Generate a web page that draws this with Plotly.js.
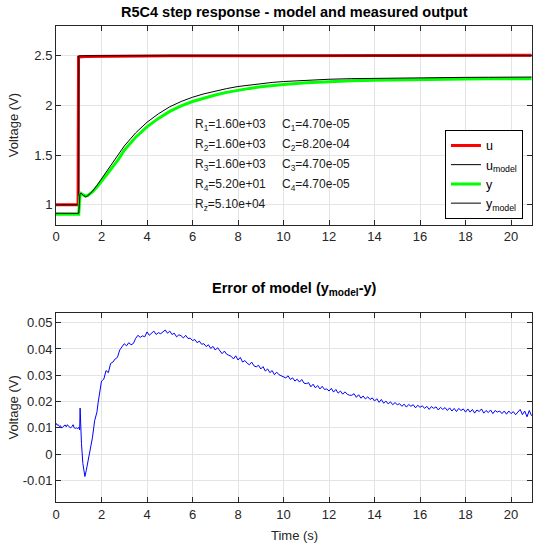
<!DOCTYPE html>
<html><head><meta charset="utf-8">
<script src="https://cdn.plot.ly/plotly-3.0.1.min.js"></script>
<style>html,body{margin:0;padding:0;background:#fff}#plot{width:536px;height:546px}</style>
</head><body><div id="plot"></div>
<script>
// ---- data ----
const uT = [0, 0.97, 0.99, 1.3, 5, 10, 20.9];
const uV = [1.0, 1.0, 2.487, 2.492, 2.5, 2.504, 2.506];
const umT = [0, 1.0, 1.0, 20.9];
const umV = [1.0, 1.0, 2.5, 2.5];
const yT = [0, 0.98, 1.0, 1.05, 1.1, 1.2, 1.3, 1.4, 1.6, 1.8, 2.0, 2.25, 2.5, 2.75, 3.0, 3.5, 4.0, 4.5, 5.0, 5.5, 6.0, 6.5, 7.0, 7.5, 8.0, 8.5, 9.0, 9.5, 10, 11, 12, 13, 14, 15, 16, 17, 18, 19, 20, 20.9];
const yV = [0.905, 0.905, 0.905, 1.09, 1.115, 1.10, 1.088, 1.095, 1.13, 1.18, 1.235, 1.31, 1.385, 1.46, 1.55, 1.68, 1.785, 1.87, 1.94, 1.995, 2.04, 2.075, 2.105, 2.132, 2.155, 2.172, 2.188, 2.201, 2.212, 2.228, 2.24, 2.248, 2.254, 2.259, 2.262, 2.265, 2.267, 2.268, 2.27, 2.27];
const ymV = [0.916, 0.915, 0.915, 1.105, 1.118, 1.095, 1.08, 1.092, 1.136, 1.196, 1.261, 1.342, 1.42, 1.498, 1.592, 1.724, 1.831, 1.916, 1.987, 2.04, 2.083, 2.117, 2.145, 2.17, 2.191, 2.207, 2.221, 2.232, 2.241, 2.255, 2.264, 2.27, 2.274, 2.278, 2.28, 2.282, 2.283, 2.284, 2.286, 2.286];

// model error (y_model - y)
const errT1 = [0, 0.05, 0.1, 0.15, 0.2, 0.25, 0.3, 0.35, 0.4, 0.45, 0.5, 0.55, 0.6, 0.65, 0.7, 0.75, 0.8, 0.85, 0.9, 0.95, 1.0, 1.04, 1.06, 1.08, 1.12, 1.18, 1.24, 1.27, 1.33, 1.4, 1.5, 1.6, 1.7, 1.8, 1.85, 1.9, 1.95];
const errV1 = [0.0118, 0.0110, 0.0112, 0.0105, 0.0108, 0.0099, 0.0104, 0.0106, 0.0111, 0.0104, 0.0112, 0.0106, 0.0104, 0.0100, 0.0105, 0.0112, 0.0100, 0.0098, 0.0100, 0.0097, 0.0102, 0.0092, 0.0175, 0.0095, 0.0040, -0.0035, -0.0076, -0.0085, -0.0062, -0.0030, 0.0016, 0.0062, 0.0128, 0.0160, 0.0195, 0.0220, 0.0238];
// sampled every 0.1 s from 2.0 s to 20.9 s
const errV2 = [0.0278, 0.0285, 0.0318, 0.0310, 0.0345, 0.0350, 0.0362, 0.0368, 0.0396, 0.0408,
  0.0420, 0.0412, 0.0424, 0.0416, 0.0421, 0.0440, 0.0452, 0.0444, 0.0450, 0.0446,
  0.0465, 0.0452, 0.0460, 0.0468, 0.0455, 0.0462, 0.0458, 0.0466, 0.0472, 0.0460,
  0.0468, 0.0455, 0.0460, 0.0446, 0.0454, 0.0450, 0.0442, 0.0452, 0.0440, 0.0441,
  0.0432, 0.0436, 0.0424, 0.0430, 0.0418, 0.0420, 0.0409, 0.0416, 0.0402, 0.0410,
  0.0396, 0.0405, 0.0394, 0.0382, 0.0392, 0.0380, 0.0376, 0.0372, 0.0362, 0.0374,
  0.0358, 0.0368, 0.0350, 0.0356, 0.0346, 0.0340, 0.0350, 0.0336, 0.0332, 0.0338,
  0.0324, 0.0333, 0.0316, 0.0324, 0.0310, 0.0318, 0.0302, 0.0312, 0.0302, 0.0298,
  0.0296, 0.0290, 0.0298, 0.0284, 0.0290, 0.0278, 0.0285, 0.0274, 0.0284, 0.0270,
  0.0268, 0.0272, 0.0256, 0.0266, 0.0252, 0.0261, 0.0248, 0.0258, 0.0246, 0.0248,
  0.0240, 0.0250, 0.0236, 0.0246, 0.0232, 0.0240, 0.0228, 0.0237, 0.0228, 0.0224,
  0.0224, 0.0230, 0.0216, 0.0226, 0.0213, 0.0221, 0.0210, 0.0218, 0.0208, 0.0214,
  0.0202, 0.0211, 0.0197, 0.0208, 0.0194, 0.0202, 0.0191, 0.0199, 0.0188, 0.0196,
  0.0188, 0.0192, 0.0182, 0.0190, 0.0179, 0.0189, 0.0182, 0.0188, 0.0176, 0.0186,
  0.0178, 0.0184, 0.0174, 0.0182, 0.0170, 0.0181, 0.0174, 0.0180, 0.0168, 0.0178,
  0.0170, 0.0177, 0.0166, 0.0176, 0.0164, 0.0174, 0.0162, 0.0174, 0.0166, 0.0172,
  0.0160, 0.0172, 0.0160, 0.0170, 0.0156, 0.0168, 0.0162, 0.0172, 0.0156, 0.0166,
  0.0158, 0.0168, 0.0154, 0.0166, 0.0160, 0.0164, 0.0154, 0.0164, 0.0152, 0.0164,
  0.0154, 0.0162, 0.0150, 0.0160, 0.0170, 0.0150, 0.0164, 0.0142, 0.0166, 0.0146];
const errT2 = errV2.map((_, i) => +(2.0 + 0.1 * i).toFixed(1));
const errT = errT1.concat(errT2);
const errV = errV1.concat(errV2);

const paramIdx = ['1', '2', '3', '4', 'z'];
const rVals = ['1.60e+03', '1.60e+03', '1.60e+03', '5.20e+01', '5.10e+04'];
const cVals = ['4.70e-05', '8.20e-04', '4.70e-05', '4.70e-05', null];

const xTicks = [0, 2, 4, 6, 8, 10, 12, 14, 16, 18, 20];
const y1Ticks = [1, 1.5, 2, 2.5];
const y2Ticks = [-0.01, 0, 0.01, 0.02, 0.03, 0.04, 0.05];
const y2Text = ['-0.01', '0', '0.01', '0.02', '0.03', '0.04', '0.05'];

// ---- styling / layout ----
const FONT = 'Liberation Sans, Arial, Helvetica, sans-serif';
const AX = '#262626';
const GRID = '#e4e4e4';

const traces = [
  {x: uT, y: uV, name: 'u', mode: 'lines', line: {color: '#ff0000', width: 3}, xaxis: 'x', yaxis: 'y'},
  {x: umT, y: umV, name: 'u<sub>model</sub>', mode: 'lines', line: {color: '#000000', width: 1}, xaxis: 'x', yaxis: 'y'},
  {x: yT, y: yV, name: 'y', mode: 'lines', line: {color: '#00ff00', width: 3}, xaxis: 'x', yaxis: 'y'},
  {x: yT, y: ymV, name: 'y<sub>model</sub>', mode: 'lines', line: {color: '#000000', width: 1}, xaxis: 'x', yaxis: 'y'},
  {x: errT, y: errV, name: 'err', mode: 'lines', line: {color: '#0000ff', width: 1}, xaxis: 'x2', yaxis: 'y2', showlegend: false}
];

function xax(anchor) {
  return {
    anchor: anchor, range: [0, 20.92], tickvals: xTicks, ticktext: xTicks.map(String),
    ticks: 'inside', ticklen: 5, tickcolor: AX, showline: true, linecolor: AX, linewidth: 1, mirror: 'ticks',
    showgrid: true, gridcolor: GRID, zeroline: false, tickfont: {family: FONT, size: 13, color: AX}
  };
}
function yax(anchor, dom, range, vals, text) {
  return {
    anchor: anchor, domain: dom, range: range, tickvals: vals, ticktext: text,
    ticks: 'inside', ticklen: 5, tickcolor: AX, showline: true, linecolor: AX, linewidth: 1, mirror: 'ticks',
    showgrid: true, gridcolor: GRID, zeroline: false, tickfont: {family: FONT, size: 13, color: AX}
  };
}

const annotations = [
  {text: '<b>R5C4 step response - model and measured output</b>', xref: 'paper', yref: 'paper', x: 0.5, y: 1.0294, xanchor: 'center', yanchor: 'middle', showarrow: false, font: {family: FONT, size: 14.5, color: '#000'}},
  {text: '<b>Error of model (y<sub>model</sub>-y)</b>', xref: 'paper', yref: 'paper', x: 0.5, y: 0.4475, xanchor: 'center', yanchor: 'middle', showarrow: false, font: {family: FONT, size: 14.5, color: '#000'}},
  {text: 'Time (s)', xref: 'paper', yref: 'paper', x: 0.5, y: -0.0714, xanchor: 'center', yanchor: 'middle', showarrow: false, font: {family: FONT, size: 13, color: AX}},
  {text: 'Voltage (V)', xref: 'paper', yref: 'paper', x: -0.0903, y: 0.7916, xanchor: 'center', yanchor: 'middle', textangle: -90, showarrow: false, font: {family: FONT, size: 13, color: AX}},
  {text: 'Voltage (V)', xref: 'paper', yref: 'paper', x: -0.0903, y: 0.1985, xanchor: 'center', yanchor: 'middle', textangle: -90, showarrow: false, font: {family: FONT, size: 13, color: AX}}
];
paramIdx.forEach((k, i) => {
  const yy = 1.80 - 0.2 * i;
  annotations.push({text: 'R<sub>' + k + '</sub>=' + rVals[i], xref: 'x', yref: 'y', x: 6.03, y: yy, xanchor: 'left', yanchor: 'middle', showarrow: false, font: {family: FONT, size: 12, color: '#1a1a1a'}});
  if (cVals[i]) annotations.push({text: 'C<sub>' + k + '</sub>=' + cVals[i], xref: 'x', yref: 'y', x: 9.85, y: yy, xanchor: 'left', yanchor: 'middle', showarrow: false, font: {family: FONT, size: 12, color: '#1a1a1a'}});
});

const layout = {
  width: 536, height: 546, margin: {l: 56, r: 4, t: 26, b: 44},
  paper_bgcolor: '#fff', plot_bgcolor: '#fff',
  xaxis: xax('y'), yaxis: yax('x', [0.5826, 1], [0.8, 2.8], y1Ticks, y1Ticks.map(String)),
  xaxis2: xax('y2'), yaxis2: yax('x2', [0, 0.3977], [-0.0182, 0.0538], y2Ticks, y2Text),
  showlegend: true,
  legend: {x: 0.981, y: 0.782, xanchor: 'right', yanchor: 'top', bgcolor: '#fff', bordercolor: '#000', borderwidth: 1,
    font: {family: FONT, size: 12.5, color: '#000'}, tracegroupgap: 0},
  annotations: annotations
};

Plotly.newPlot('plot', traces, layout, {staticPlot: true, displayModeBar: false});
</script></body></html>
